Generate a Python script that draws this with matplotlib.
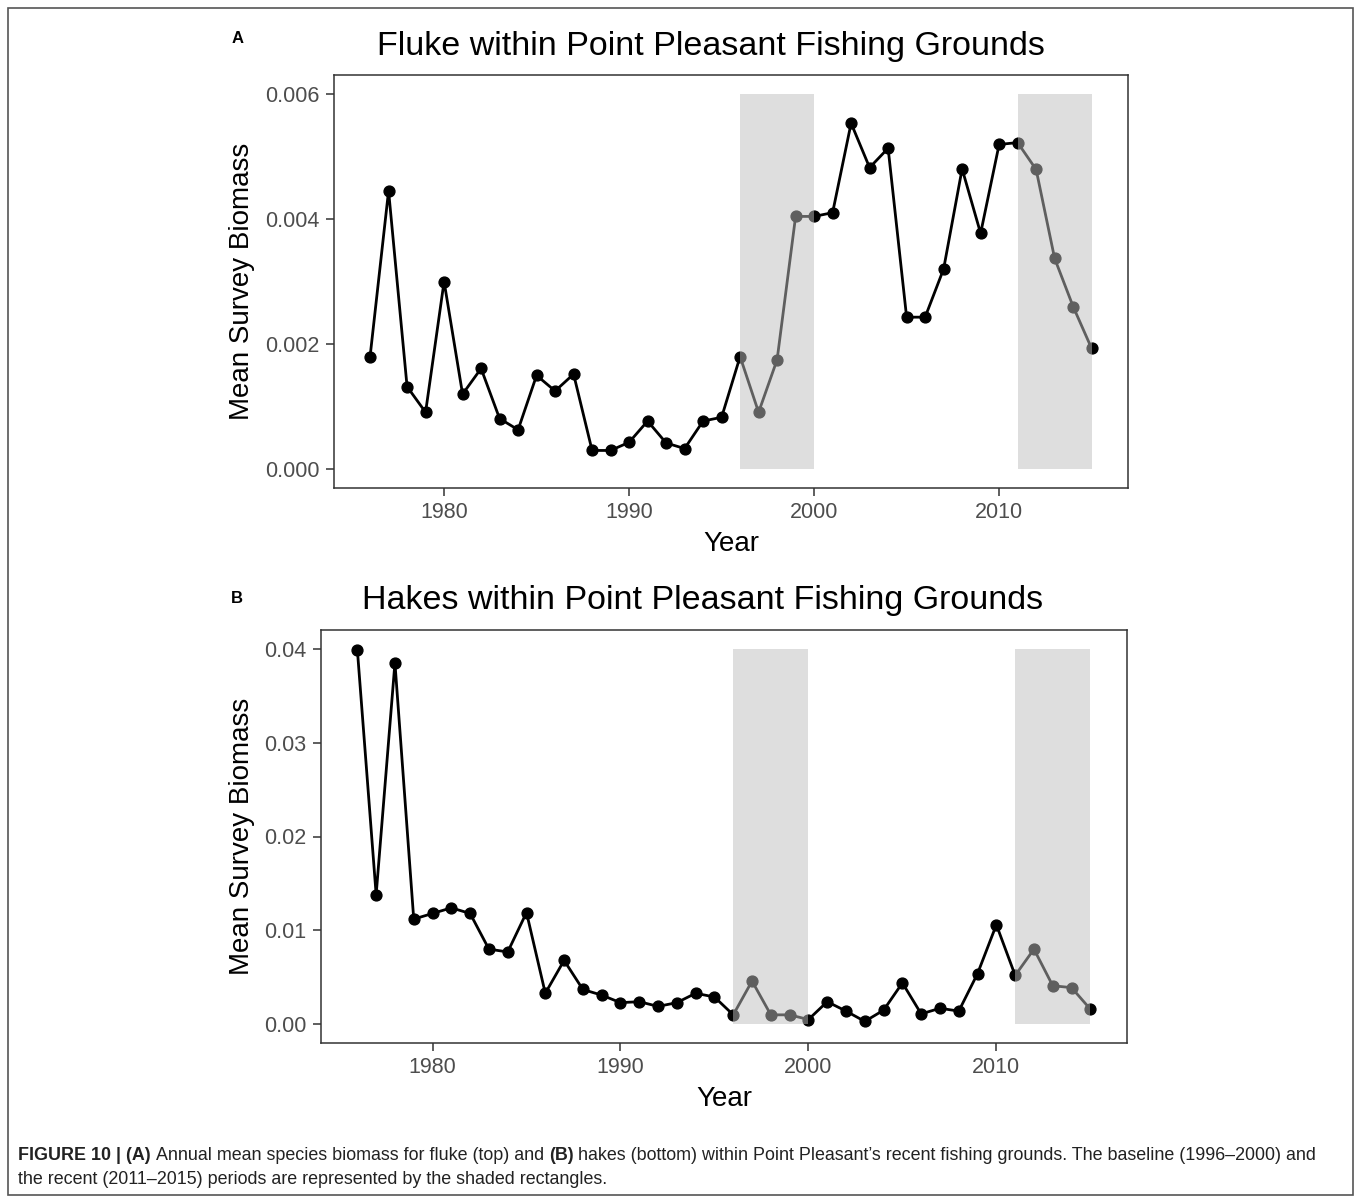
import matplotlib
matplotlib.use("Agg")
import matplotlib.pyplot as plt
from matplotlib.patches import Rectangle

plt.rcParams['font.family'] = ['Liberation Sans', 'DejaVu Sans']

# Data
years = list(range(1976, 2016))

fluke = [0.00180, 0.00445, 0.00132, 0.00091, 0.00300, 0.00120, 0.00161, 0.00081,
         0.00063, 0.00150, 0.00125, 0.00152, 0.00030, 0.00030, 0.00043, 0.00077,
         0.00042, 0.00033, 0.00077, 0.00083, 0.00180, 0.00091, 0.00175, 0.00404,
         0.00404, 0.00410, 0.00553, 0.00482, 0.00513, 0.00243, 0.00243, 0.00320,
         0.00480, 0.00377, 0.00519, 0.00522, 0.00479, 0.00337, 0.00260, 0.00193]

hakes = [0.0399, 0.0138, 0.0385, 0.0112, 0.0118, 0.0124, 0.0118, 0.0080,
         0.0077, 0.0119, 0.0033, 0.0068, 0.0037, 0.0031, 0.0023, 0.0024,
         0.0019, 0.0023, 0.0033, 0.0029, 0.0010, 0.0046, 0.0010, 0.0010,
         0.0005, 0.0024, 0.0014, 0.0003, 0.0015, 0.0044, 0.0011, 0.0017,
         0.0014, 0.0054, 0.0106, 0.0052, 0.0080, 0.0041, 0.0039, 0.0016]

periods = [(1996, 2000), (2011, 2015)]   # baseline, recent

fluke_ticks = [0.000, 0.002, 0.004, 0.006]
fluke_ticklabels = ['0.000', '0.002', '0.004', '0.006']
hakes_ticks = [0.00, 0.01, 0.02, 0.03, 0.04]
hakes_ticklabels = ['0.00', '0.01', '0.02', '0.03', '0.04']
year_ticks = [1980, 1990, 2000, 2010]

W, H = 1357, 1201
fig = plt.figure(figsize=(W / 100, H / 100), dpi=100)


def px(x, y):
    return x / W, 1 - y / H


def panel(rect, values, top, yticks, yticklabels):
    ax = fig.add_axes(rect)
    ax.plot(years, values, color='black', lw=2.0, marker='o', ms=7.8, zorder=2)
    # shaded periods sit on top of the line, semi transparent
    for a, b in periods:
        ax.fill_between([a, b], 0, top, color='#BEBEBE', alpha=0.5, lw=0, zorder=3)
    span = years[-1] - years[0]
    ax.set_xlim(years[0] - 0.05 * span, years[-1] + 0.05 * span)
    ax.set_ylim(-0.05 * top, top * 1.05)
    ax.set_xticks(year_ticks)
    ax.set_yticks(yticks)
    ax.set_yticklabels(yticklabels)
    for s in ax.spines.values():
        s.set_color('#333333')
        s.set_linewidth(1.1)
    ax.tick_params(length=5.5, width=1.1, color='#333333', labelcolor='#4D4D4D',
                   labelsize=15.5, pad=5)
    ax.tick_params(axis='x', pad=4.5)
    return ax


axA = panel([334 / W, 1 - 488 / H, (1127.7 - 334) / W, 413 / H],
            fluke, 0.006, fluke_ticks, fluke_ticklabels)
axB = panel([320.7 / W, 1 - 1043 / H, (1127 - 320.7) / W, 413 / H],
            hakes, 0.04, hakes_ticks, hakes_ticklabels)

# titles, panel letters, axis labels
fig.text(*px(711, 54.5), 'Fluke within Point Pleasant Fishing Grounds',
         fontsize=24.5, ha='center', va='baseline')
fig.text(*px(703, 609), 'Hakes within Point Pleasant Fishing Grounds',
         fontsize=24.5, ha='center', va='baseline')
fig.text(*px(238, 43.3), 'A', fontsize=12, fontweight='bold', ha='center', va='baseline')
fig.text(*px(237, 602.7), 'B', fontsize=12, fontweight='bold', ha='center', va='baseline')

for ytop, ybot, xc in [(75, 488, 731), (630, 1043, 724)]:
    fig.text(*px(242, (ytop + ybot) / 2), 'Mean Survey Biomass', fontsize=20,
             rotation=90, ha='center', va='center')
    fig.text(*px(xc, ybot + 62.7), 'Year', fontsize=20, ha='center', va='baseline')

# outer frame
fig.patches.append(Rectangle(px(8, 1195), 1345 / W, 1187 / H, transform=fig.transFigure,
                             fill=False, edgecolor='#555555', lw=1.2))

# caption with mixed weights
renderer = fig.canvas.get_renderer()
cap_size = 12.9
cap_color = '#222222'


def text_w(s, weight):
    t = fig.text(0, 0, s, fontsize=cap_size, fontweight=weight)
    w = t.get_window_extent(renderer).width
    t.remove()
    return w


space = text_w('a a', 'normal') - text_w('aa', 'normal')


def rich_line(parts, x0, y):
    x = x0
    for s, weight in parts:
        t = fig.text(*px(x, y), s, fontsize=cap_size, fontweight=weight,
                     color=cap_color, va='baseline')
        x += t.get_window_extent(renderer).width + space


rich_line([('FIGURE 10 | (A)', 'bold'),
           ('Annual mean species biomass for fluke (top) and', 'normal'),
           ('(B)', 'bold'),
           ("hakes (bottom) within Point Pleasant\u2019s recent fishing grounds. The baseline (1996\u20132000) and", 'normal')],
          18, 1160)
rich_line([('the recent (2011\u20132015) periods are represented by the shaded rectangles.', 'normal')],
          18, 1184)

fig.savefig('out.png', dpi=100)
